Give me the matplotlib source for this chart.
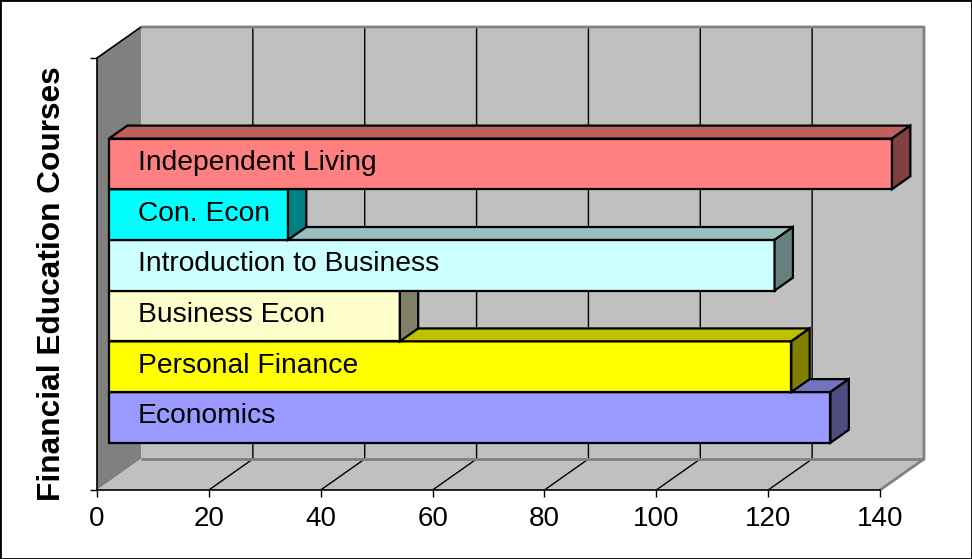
import matplotlib
matplotlib.use("Agg")
import matplotlib.pyplot as plt
import numpy as np
from matplotlib.patches import Polygon, Rectangle
from matplotlib.lines import Line2D
from matplotlib.colors import to_rgb
from matplotlib.transforms import IdentityTransform

plt.rcParams['font.family'] = ['Liberation Sans', 'DejaVu Sans']

# ---------------- data ----------------
courses = ["Economics", "Personal Finance", "Business Econ",
           "Introduction to Business", "Con. Econ", "Independent Living"]
values = [129, 122, 52, 119, 32, 140]
colors = ["#9999FF", "#FFFF00", "#FFFFCC", "#CCFFFF", "#00FFFF", "#FF8080"]
xticks = [0, 20, 40, 60, 80, 100, 120, 140]
ylabel = "Financial Education Courses"

# ---------------- layout ----------------
W, H = 972, 559
fig = plt.figure(figsize=(W / 100, H / 100), dpi=100)
s = fig.dpi / 100.0
ax = fig.add_axes([97 / W, (H - 490) / H, 783 / W, 432 / H])
XMAX = 140
YLO, YHI = -0.765, 7.755
ax.set_xlim(0, XMAX)
ax.set_ylim(YLO, YHI)
ax.patch.set_visible(False)
for sp in ("top", "right"):
    ax.spines[sp].set_visible(False)
for sp in ("left", "bottom"):
    ax.spines[sp].set_color("black")
    ax.spines[sp].set_linewidth(1.2)
ax.set_xticks(xticks)
ax.set_xticklabels([str(t) for t in xticks])
ax.tick_params(axis="x", direction="out", length=5, width=1, labelsize=20,
               pad=6.2, colors="black")
ax.set_yticks([YLO, YHI])
ax.set_yticklabels([])
ax.tick_params(axis="y", direction="out", length=5, width=1)

DX, DY = 44 * s, 31 * s      # full depth offset (display px)
F0, F1 = 0.273, 0.69         # bar front/back depth fractions


def P(x, y, d):
    X, Y = ax.transData.transform((x, y))
    return (X + d * DX, Y + d * DY)


def poly(pts, fc, ec="none", lw=0.0, z=1.0):
    p = Polygon(pts, closed=True, facecolor=fc, edgecolor=ec, linewidth=lw,
                transform=IdentityTransform(), zorder=z, clip_on=False,
                joinstyle="miter")
    ax.add_patch(p)


def line(pts, color, lw, z=1.2):
    xs = [p[0] for p in pts]
    ys = [p[1] for p in pts]
    ax.add_line(Line2D(xs, ys, color=color, linewidth=lw,
                       transform=IdentityTransform(), zorder=z, clip_on=False,
                       solid_capstyle="butt"))


# walls
poly([P(0, YLO, 1), P(XMAX, YLO, 1), P(XMAX, YHI, 1), P(0, YHI, 1)], "#C0C0C0", z=0.5)
poly([P(0, YLO, 0), P(0, YLO, 1), P(0, YHI, 1), P(0, YHI, 0)], "#808080", z=0.6)
poly([P(0, YLO, 0), P(XMAX, YLO, 0), P(XMAX, YLO, 1), P(0, YLO, 1)], "#C0C0C0", z=0.6)

# gridlines
for t in xticks[1:-1]:
    line([P(t, YLO, 0), P(t, YLO, 1), P(t, YHI, 1)], "black", 1.0, z=0.8)

# wall edges
line([P(0, YHI, 1), P(XMAX, YHI, 1), P(XMAX, YLO, 1), P(XMAX, YLO, 0)], "#808080", 2.0, z=0.9)
line([P(0, YLO, 1), P(XMAX, YLO, 1)], "#808080", 2.0, z=0.9)
line([P(0, YHI, 0), P(0, YHI, 1)], "black", 1.2, z=0.9)

# bars
for i, (name, v, c) in enumerate(zip(courses, values, colors)):
    rgb = np.array(to_rgb(c))
    z = 3 + i * 0.1
    ec, lw = "black", 1.6
    poly([P(0, i, F0), P(v, i, F0), P(v, i + 1, F0), P(0, i + 1, F0)], rgb, ec, lw, z)
    poly([P(0, i + 1, F0), P(v, i + 1, F0), P(v, i + 1, F1), P(0, i + 1, F1)], rgb * 0.75, ec, lw, z)
    poly([P(v, i, F0), P(v, i, F1), P(v, i + 1, F1), P(v, i + 1, F0)], rgb * 0.5, ec, lw, z)
    X, Y = P(0, i + 0.5, F0)
    ax.text(X + 29 * s, Y - 6 * s, name, transform=IdentityTransform(),
            ha="left", va="baseline", fontsize=20.3, color="black",
            zorder=z + 0.05)

# y label
fig.text(52 / W, 1 - 284 / H, ylabel, rotation=90, ha="center", va="center",
         fontsize=22.8, fontweight="bold", color="black")

# outer border
fig.add_artist(Rectangle((0, 0), 1, 1, transform=fig.transFigure, fill=False,
                         edgecolor="black", linewidth=2))

fig.savefig("out.png", dpi=100)
